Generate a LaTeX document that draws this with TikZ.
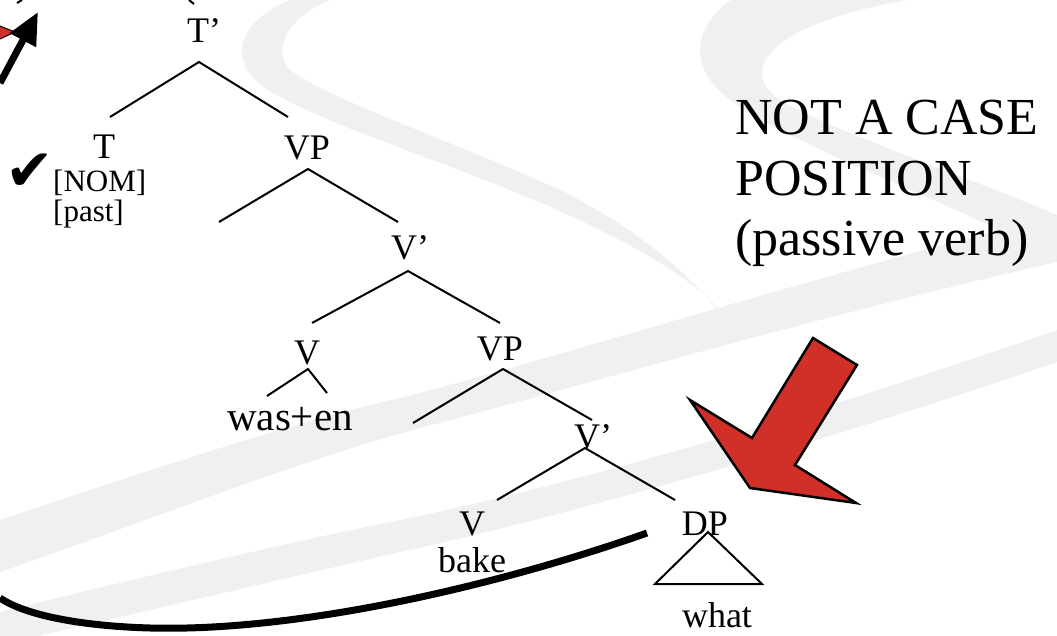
\documentclass[tikz,border=0pt]{standalone}
\usepackage{fontspec}
\setmainfont{Liberation Serif}
\newfontfamily\dejavu{DejaVu Sans}
\usetikzlibrary{arrows.meta}
\definecolor{arrowred}{RGB}{208,48,39}
\definecolor{swoosh}{RGB}{240,240,240}
\begin{document}
\begin{tikzpicture}[x=1pt,y=-1pt,
  lbl/.style={inner sep=0pt, anchor=base, font=\fontsize{36}{40}\selectfont},
  feat/.style={inner sep=0pt, anchor=base west, font=\fontsize{31}{34}\selectfont},
  note/.style={inner sep=0pt, anchor=base west, font=\fontsize{52}{60}\selectfont},
  branch/.style={line width=2pt},
  bg/.style={fill=swoosh, draw=none}]
\useasboundingbox (0,0) rectangle (1057,636);
\fill[white] (0,0) rectangle (1057,636);
% background swooshes
\path[bg] (290,0) .. controls (240,20) and (225,60) .. (265,88)
  .. controls (330,130) and (480,170) .. (600,230)
  .. controls (680,270) and (720,300) .. (740,340)
  .. controls (700,280) and (640,230) .. (560,190)
  .. controls (450,140) and (330,100) .. (290,70)
  .. controls (270,50) and (290,15) .. (330,0) -- cycle;
\path[bg] (731,0) .. controls (690,30) and (690,70) .. (730,100)
  .. controls (800,150) and (950,200) .. (1057,260)
  -- (1057,215) .. controls (950,170) and (830,130) .. (780,100)
  .. controls (740,75) and (760,25) .. (908,0) -- cycle;
\path[bg] (0,520) .. controls (150,470) and (300,420) .. (400,398)
  .. controls (550,360) and (800,280) .. (1057,215)
  -- (1057,262) .. controls (800,320) and (550,395) .. (420,428)
  .. controls (300,460) and (150,520) .. (0,572) -- cycle;
\path[bg] (0,612) .. controls (150,575) and (300,540) .. (400,520)
  .. controls (550,490) and (800,420) .. (1057,330)
  -- (1057,362) .. controls (800,450) and (550,520) .. (400,552)
  .. controls (300,575) and (150,610) .. (0,645) -- cycle;
% top-left fragments
\coordinate (tlRedA) at (0,26);
\coordinate (tlRedB) at (15,32);
\coordinate (tlRedC) at (0,39);
\filldraw[fill=arrowred, draw=black, line width=1pt] (tlRedA) -- (tlRedB) -- (tlRedC);
\coordinate (tlTail) at (0,83);
\coordinate (tlTip) at (38,12);
\draw[line width=7pt, -{Triangle[length=32pt,width=28pt]}] (tlTail) -- (tlTip);
\coordinate (topA) at (17,3);
\coordinate (topB) at (22,0);
\draw[branch] (topA) -- (topB);
\coordinate (topC) at (189,0);
\coordinate (topD) at (194,4);
\draw[branch] (topC) -- (topD);
% tree labels
\node[lbl] (Tbar) at (204,43) {T’};
\node[lbl] (T) at (104,159) {T};
\node[feat] (nom) at (53,192) {[NOM]};
\node[feat] (past) at (53,222) {[past]};
\node[inner sep=0pt, font=\dejavu\fontsize{58}{58}\selectfont] (check) at (30,172) {✔};
\node[lbl] (VP1) at (307,160) {VP};
\node[lbl] (Vbar1) at (410,260) {V’};
\node[lbl] (V1) at (307,364) {V};
\node[lbl, font=\fontsize{41}{44}\selectfont] (wasen) at (290,430) {was+en};
\node[lbl] (VP2) at (500,360) {VP};
\node[lbl] (Vbar2) at (593,448) {V’};
\node[lbl] (V2) at (472,535) {V};
\node[lbl] (bake) at (472,572) {bake};
\node[lbl] (DP) at (705,535) {DP};
\node[lbl] (what) at (717,627) {what};
% branch points
\coordinate (TbarA) at (199,62);
\coordinate (TbarL) at (110,117);
\coordinate (TbarR) at (288,117);
\coordinate (VP1A) at (308,169);
\coordinate (VP1L) at (219,222);
\coordinate (VP1R) at (398,222);
\coordinate (Vbar1A) at (408,271);
\coordinate (Vbar1L) at (312,323);
\coordinate (Vbar1R) at (500,323);
\coordinate (V1A) at (308,369);
\coordinate (V1L) at (267,396);
\coordinate (V1R) at (327,393);
\coordinate (VP2A) at (503,369);
\coordinate (VP2L) at (413,423);
\coordinate (VP2R) at (592,420);
\coordinate (Vbar2A) at (585,448);
\coordinate (Vbar2L) at (497,500);
\coordinate (Vbar2R) at (675,500);
\coordinate (DPA) at (708,532);
\coordinate (DPL) at (655,584);
\coordinate (DPR) at (762,584);
\draw[branch] (TbarL) -- (TbarA) -- (TbarR);
\draw[branch] (VP1L) -- (VP1A) -- (VP1R);
\draw[branch] (Vbar1L) -- (Vbar1A) -- (Vbar1R);
\draw[branch] (V1L) -- (V1A) -- (V1R);
\draw[branch] (VP2L) -- (VP2A) -- (VP2R);
\draw[branch] (Vbar2L) -- (Vbar2A) -- (Vbar2R);
\draw[branch] (DPA) -- (DPL) -- (DPR) -- cycle;
% movement curve
\coordinate (mvStart) at (647,533);
\coordinate (mvLow) at (150,628);
\coordinate (mvEnd) at (0,598);
\draw[line width=7pt] (mvStart) .. controls (500,585) and (300,632) .. (mvLow)
  .. controls (80,626) and (25,615) .. (mvEnd);
% red block arrow
\draw[fill=arrowred, line width=2.5pt, line join=miter]
  (813,338) -- (857,365) -- (795,465) -- (856,503) -- (750,488) -- (690,400) -- (752,438) -- cycle;
% note
\node[note] (note1) at (735,135) {NOT A CASE};
\node[note] (note2) at (735,196) {POSITION};
\node[note] (note3) at (735,256) {(passive verb)};
\end{tikzpicture}
\end{document}
